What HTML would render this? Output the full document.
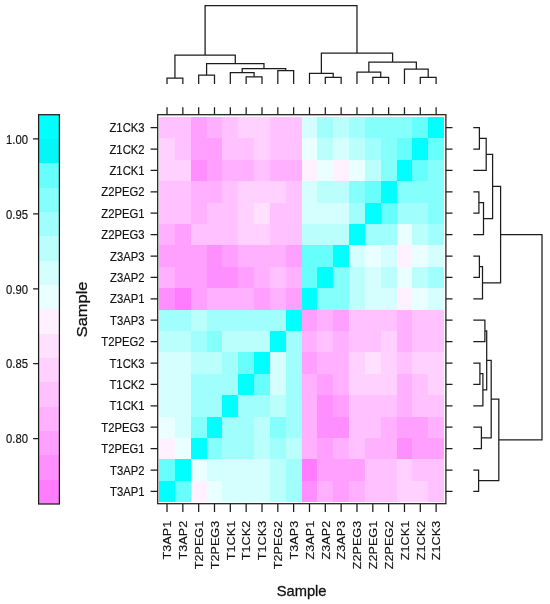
<!DOCTYPE html>
<html><head><meta charset="utf-8"><title>Sample heatmap</title>
<style>html,body{margin:0;padding:0;background:#fff;}svg{display:block;}text{font-family:"Liberation Sans",sans-serif;}</style>
</head><body>
<svg width="550" height="604" viewBox="0 0 550 604">
<rect width="550" height="604" fill="#fff"/>
<g shape-rendering="crispEdges">
<rect x="159.10" y="116.90" width="16.13" height="21.70" fill="#ffc1ff"/>
<rect x="174.93" y="116.90" width="16.13" height="21.70" fill="#ffc1ff"/>
<rect x="190.76" y="116.90" width="16.13" height="21.70" fill="#ffa0ff"/>
<rect x="206.59" y="116.90" width="16.13" height="21.70" fill="#ffb1ff"/>
<rect x="222.42" y="116.90" width="16.13" height="21.70" fill="#ffc1ff"/>
<rect x="238.25" y="116.90" width="16.13" height="21.70" fill="#ffd1ff"/>
<rect x="254.08" y="116.90" width="16.13" height="21.70" fill="#ffd1ff"/>
<rect x="269.91" y="116.90" width="16.13" height="21.70" fill="#ffc1ff"/>
<rect x="285.74" y="116.90" width="16.13" height="21.70" fill="#ffc1ff"/>
<rect x="301.57" y="116.90" width="16.13" height="21.70" fill="#d4fffe"/>
<rect x="317.40" y="116.90" width="16.13" height="21.70" fill="#a0fffc"/>
<rect x="333.23" y="116.90" width="16.13" height="21.70" fill="#bbfffd"/>
<rect x="349.06" y="116.90" width="16.13" height="21.70" fill="#a0fffc"/>
<rect x="364.89" y="116.90" width="16.13" height="21.70" fill="#84fffb"/>
<rect x="380.72" y="116.90" width="16.13" height="21.70" fill="#84fffb"/>
<rect x="396.55" y="116.90" width="16.13" height="21.70" fill="#84fffb"/>
<rect x="412.38" y="116.90" width="16.13" height="21.70" fill="#66fffb"/>
<rect x="428.21" y="116.90" width="16.13" height="21.70" fill="#00ffff"/>
<rect x="159.10" y="138.30" width="16.13" height="21.70" fill="#ffd1ff"/>
<rect x="174.93" y="138.30" width="16.13" height="21.70" fill="#ffc1ff"/>
<rect x="190.76" y="138.30" width="16.13" height="21.70" fill="#ffa0ff"/>
<rect x="206.59" y="138.30" width="16.13" height="21.70" fill="#ffa0ff"/>
<rect x="222.42" y="138.30" width="16.13" height="21.70" fill="#ffc1ff"/>
<rect x="238.25" y="138.30" width="16.13" height="21.70" fill="#ffc1ff"/>
<rect x="254.08" y="138.30" width="16.13" height="21.70" fill="#ffd1ff"/>
<rect x="269.91" y="138.30" width="16.13" height="21.70" fill="#ffc1ff"/>
<rect x="285.74" y="138.30" width="16.13" height="21.70" fill="#ffc1ff"/>
<rect x="301.57" y="138.30" width="16.13" height="21.70" fill="#eaffff"/>
<rect x="317.40" y="138.30" width="16.13" height="21.70" fill="#bbfffd"/>
<rect x="333.23" y="138.30" width="16.13" height="21.70" fill="#d4fffe"/>
<rect x="349.06" y="138.30" width="16.13" height="21.70" fill="#bbfffd"/>
<rect x="364.89" y="138.30" width="16.13" height="21.70" fill="#a0fffc"/>
<rect x="380.72" y="138.30" width="16.13" height="21.70" fill="#84fffb"/>
<rect x="396.55" y="138.30" width="16.13" height="21.70" fill="#66fffb"/>
<rect x="412.38" y="138.30" width="16.13" height="21.70" fill="#00ffff"/>
<rect x="428.21" y="138.30" width="16.13" height="21.70" fill="#66fffb"/>
<rect x="159.10" y="159.70" width="16.13" height="21.70" fill="#ffd1ff"/>
<rect x="174.93" y="159.70" width="16.13" height="21.70" fill="#ffd1ff"/>
<rect x="190.76" y="159.70" width="16.13" height="21.70" fill="#ff8fff"/>
<rect x="206.59" y="159.70" width="16.13" height="21.70" fill="#ffa0ff"/>
<rect x="222.42" y="159.70" width="16.13" height="21.70" fill="#ffb1ff"/>
<rect x="238.25" y="159.70" width="16.13" height="21.70" fill="#ffb1ff"/>
<rect x="254.08" y="159.70" width="16.13" height="21.70" fill="#ffc1ff"/>
<rect x="269.91" y="159.70" width="16.13" height="21.70" fill="#ffb1ff"/>
<rect x="285.74" y="159.70" width="16.13" height="21.70" fill="#ffb1ff"/>
<rect x="301.57" y="159.70" width="16.13" height="21.70" fill="#fff1ff"/>
<rect x="317.40" y="159.70" width="16.13" height="21.70" fill="#eaffff"/>
<rect x="333.23" y="159.70" width="16.13" height="21.70" fill="#fff1ff"/>
<rect x="349.06" y="159.70" width="16.13" height="21.70" fill="#eaffff"/>
<rect x="364.89" y="159.70" width="16.13" height="21.70" fill="#bbfffd"/>
<rect x="380.72" y="159.70" width="16.13" height="21.70" fill="#84fffb"/>
<rect x="396.55" y="159.70" width="16.13" height="21.70" fill="#00ffff"/>
<rect x="412.38" y="159.70" width="16.13" height="21.70" fill="#66fffb"/>
<rect x="428.21" y="159.70" width="16.13" height="21.70" fill="#84fffb"/>
<rect x="159.10" y="181.10" width="16.13" height="21.70" fill="#ffc1ff"/>
<rect x="174.93" y="181.10" width="16.13" height="21.70" fill="#ffc1ff"/>
<rect x="190.76" y="181.10" width="16.13" height="21.70" fill="#ffb1ff"/>
<rect x="206.59" y="181.10" width="16.13" height="21.70" fill="#ffb1ff"/>
<rect x="222.42" y="181.10" width="16.13" height="21.70" fill="#ffc1ff"/>
<rect x="238.25" y="181.10" width="16.13" height="21.70" fill="#ffd1ff"/>
<rect x="254.08" y="181.10" width="16.13" height="21.70" fill="#ffd1ff"/>
<rect x="269.91" y="181.10" width="16.13" height="21.70" fill="#ffd1ff"/>
<rect x="285.74" y="181.10" width="16.13" height="21.70" fill="#ffc1ff"/>
<rect x="301.57" y="181.10" width="16.13" height="21.70" fill="#d4fffe"/>
<rect x="317.40" y="181.10" width="16.13" height="21.70" fill="#bbfffd"/>
<rect x="333.23" y="181.10" width="16.13" height="21.70" fill="#bbfffd"/>
<rect x="349.06" y="181.10" width="16.13" height="21.70" fill="#84fffb"/>
<rect x="364.89" y="181.10" width="16.13" height="21.70" fill="#66fffb"/>
<rect x="380.72" y="181.10" width="16.13" height="21.70" fill="#00ffff"/>
<rect x="396.55" y="181.10" width="16.13" height="21.70" fill="#84fffb"/>
<rect x="412.38" y="181.10" width="16.13" height="21.70" fill="#84fffb"/>
<rect x="428.21" y="181.10" width="16.13" height="21.70" fill="#84fffb"/>
<rect x="159.10" y="202.50" width="16.13" height="21.70" fill="#ffc1ff"/>
<rect x="174.93" y="202.50" width="16.13" height="21.70" fill="#ffc1ff"/>
<rect x="190.76" y="202.50" width="16.13" height="21.70" fill="#ffb1ff"/>
<rect x="206.59" y="202.50" width="16.13" height="21.70" fill="#ffc1ff"/>
<rect x="222.42" y="202.50" width="16.13" height="21.70" fill="#ffc1ff"/>
<rect x="238.25" y="202.50" width="16.13" height="21.70" fill="#ffd1ff"/>
<rect x="254.08" y="202.50" width="16.13" height="21.70" fill="#ffe1ff"/>
<rect x="269.91" y="202.50" width="16.13" height="21.70" fill="#ffc1ff"/>
<rect x="285.74" y="202.50" width="16.13" height="21.70" fill="#ffc1ff"/>
<rect x="301.57" y="202.50" width="16.13" height="21.70" fill="#d4fffe"/>
<rect x="317.40" y="202.50" width="16.13" height="21.70" fill="#d4fffe"/>
<rect x="333.23" y="202.50" width="16.13" height="21.70" fill="#d4fffe"/>
<rect x="349.06" y="202.50" width="16.13" height="21.70" fill="#a0fffc"/>
<rect x="364.89" y="202.50" width="16.13" height="21.70" fill="#00ffff"/>
<rect x="380.72" y="202.50" width="16.13" height="21.70" fill="#66fffb"/>
<rect x="396.55" y="202.50" width="16.13" height="21.70" fill="#a0fffc"/>
<rect x="412.38" y="202.50" width="16.13" height="21.70" fill="#a0fffc"/>
<rect x="428.21" y="202.50" width="16.13" height="21.70" fill="#84fffb"/>
<rect x="159.10" y="223.90" width="16.13" height="21.70" fill="#ffb1ff"/>
<rect x="174.93" y="223.90" width="16.13" height="21.70" fill="#ffa0ff"/>
<rect x="190.76" y="223.90" width="16.13" height="21.70" fill="#ffc1ff"/>
<rect x="206.59" y="223.90" width="16.13" height="21.70" fill="#ffc1ff"/>
<rect x="222.42" y="223.90" width="16.13" height="21.70" fill="#ffc1ff"/>
<rect x="238.25" y="223.90" width="16.13" height="21.70" fill="#ffd1ff"/>
<rect x="254.08" y="223.90" width="16.13" height="21.70" fill="#ffd1ff"/>
<rect x="269.91" y="223.90" width="16.13" height="21.70" fill="#ffc1ff"/>
<rect x="285.74" y="223.90" width="16.13" height="21.70" fill="#ffc1ff"/>
<rect x="301.57" y="223.90" width="16.13" height="21.70" fill="#bbfffd"/>
<rect x="317.40" y="223.90" width="16.13" height="21.70" fill="#bbfffd"/>
<rect x="333.23" y="223.90" width="16.13" height="21.70" fill="#bbfffd"/>
<rect x="349.06" y="223.90" width="16.13" height="21.70" fill="#00ffff"/>
<rect x="364.89" y="223.90" width="16.13" height="21.70" fill="#a0fffc"/>
<rect x="380.72" y="223.90" width="16.13" height="21.70" fill="#a0fffc"/>
<rect x="396.55" y="223.90" width="16.13" height="21.70" fill="#eaffff"/>
<rect x="412.38" y="223.90" width="16.13" height="21.70" fill="#bbfffd"/>
<rect x="428.21" y="223.90" width="16.13" height="21.70" fill="#a0fffc"/>
<rect x="159.10" y="245.30" width="16.13" height="21.70" fill="#ffa0ff"/>
<rect x="174.93" y="245.30" width="16.13" height="21.70" fill="#ffa0ff"/>
<rect x="190.76" y="245.30" width="16.13" height="21.70" fill="#ffa0ff"/>
<rect x="206.59" y="245.30" width="16.13" height="21.70" fill="#ff8fff"/>
<rect x="222.42" y="245.30" width="16.13" height="21.70" fill="#ffa0ff"/>
<rect x="238.25" y="245.30" width="16.13" height="21.70" fill="#ffb1ff"/>
<rect x="254.08" y="245.30" width="16.13" height="21.70" fill="#ffb1ff"/>
<rect x="269.91" y="245.30" width="16.13" height="21.70" fill="#ffb1ff"/>
<rect x="285.74" y="245.30" width="16.13" height="21.70" fill="#ffa0ff"/>
<rect x="301.57" y="245.30" width="16.13" height="21.70" fill="#66fffb"/>
<rect x="317.40" y="245.30" width="16.13" height="21.70" fill="#66fffb"/>
<rect x="333.23" y="245.30" width="16.13" height="21.70" fill="#00ffff"/>
<rect x="349.06" y="245.30" width="16.13" height="21.70" fill="#d4fffe"/>
<rect x="364.89" y="245.30" width="16.13" height="21.70" fill="#eaffff"/>
<rect x="380.72" y="245.30" width="16.13" height="21.70" fill="#d4fffe"/>
<rect x="396.55" y="245.30" width="16.13" height="21.70" fill="#fff1ff"/>
<rect x="412.38" y="245.30" width="16.13" height="21.70" fill="#eaffff"/>
<rect x="428.21" y="245.30" width="16.13" height="21.70" fill="#d4fffe"/>
<rect x="159.10" y="266.70" width="16.13" height="21.70" fill="#ffb1ff"/>
<rect x="174.93" y="266.70" width="16.13" height="21.70" fill="#ffa0ff"/>
<rect x="190.76" y="266.70" width="16.13" height="21.70" fill="#ffa0ff"/>
<rect x="206.59" y="266.70" width="16.13" height="21.70" fill="#ff8fff"/>
<rect x="222.42" y="266.70" width="16.13" height="21.70" fill="#ff8fff"/>
<rect x="238.25" y="266.70" width="16.13" height="21.70" fill="#ffa0ff"/>
<rect x="254.08" y="266.70" width="16.13" height="21.70" fill="#ffb1ff"/>
<rect x="269.91" y="266.70" width="16.13" height="21.70" fill="#ffc1ff"/>
<rect x="285.74" y="266.70" width="16.13" height="21.70" fill="#ffb1ff"/>
<rect x="301.57" y="266.70" width="16.13" height="21.70" fill="#66fffb"/>
<rect x="317.40" y="266.70" width="16.13" height="21.70" fill="#00ffff"/>
<rect x="333.23" y="266.70" width="16.13" height="21.70" fill="#84fffb"/>
<rect x="349.06" y="266.70" width="16.13" height="21.70" fill="#bbfffd"/>
<rect x="364.89" y="266.70" width="16.13" height="21.70" fill="#d4fffe"/>
<rect x="380.72" y="266.70" width="16.13" height="21.70" fill="#bbfffd"/>
<rect x="396.55" y="266.70" width="16.13" height="21.70" fill="#eaffff"/>
<rect x="412.38" y="266.70" width="16.13" height="21.70" fill="#bbfffd"/>
<rect x="428.21" y="266.70" width="16.13" height="21.70" fill="#a0fffc"/>
<rect x="159.10" y="288.10" width="16.13" height="21.70" fill="#ff8fff"/>
<rect x="174.93" y="288.10" width="16.13" height="21.70" fill="#ff7cff"/>
<rect x="190.76" y="288.10" width="16.13" height="21.70" fill="#ffa0ff"/>
<rect x="206.59" y="288.10" width="16.13" height="21.70" fill="#ffb1ff"/>
<rect x="222.42" y="288.10" width="16.13" height="21.70" fill="#ffb1ff"/>
<rect x="238.25" y="288.10" width="16.13" height="21.70" fill="#ffb1ff"/>
<rect x="254.08" y="288.10" width="16.13" height="21.70" fill="#ffa0ff"/>
<rect x="269.91" y="288.10" width="16.13" height="21.70" fill="#ffb1ff"/>
<rect x="285.74" y="288.10" width="16.13" height="21.70" fill="#ffa0ff"/>
<rect x="301.57" y="288.10" width="16.13" height="21.70" fill="#00ffff"/>
<rect x="317.40" y="288.10" width="16.13" height="21.70" fill="#84fffb"/>
<rect x="333.23" y="288.10" width="16.13" height="21.70" fill="#84fffb"/>
<rect x="349.06" y="288.10" width="16.13" height="21.70" fill="#bbfffd"/>
<rect x="364.89" y="288.10" width="16.13" height="21.70" fill="#d4fffe"/>
<rect x="380.72" y="288.10" width="16.13" height="21.70" fill="#d4fffe"/>
<rect x="396.55" y="288.10" width="16.13" height="21.70" fill="#fff1ff"/>
<rect x="412.38" y="288.10" width="16.13" height="21.70" fill="#eaffff"/>
<rect x="428.21" y="288.10" width="16.13" height="21.70" fill="#d4fffe"/>
<rect x="159.10" y="309.50" width="16.13" height="21.70" fill="#a0fffc"/>
<rect x="174.93" y="309.50" width="16.13" height="21.70" fill="#a0fffc"/>
<rect x="190.76" y="309.50" width="16.13" height="21.70" fill="#bbfffd"/>
<rect x="206.59" y="309.50" width="16.13" height="21.70" fill="#a0fffc"/>
<rect x="222.42" y="309.50" width="16.13" height="21.70" fill="#a0fffc"/>
<rect x="238.25" y="309.50" width="16.13" height="21.70" fill="#a0fffc"/>
<rect x="254.08" y="309.50" width="16.13" height="21.70" fill="#a0fffc"/>
<rect x="269.91" y="309.50" width="16.13" height="21.70" fill="#a0fffc"/>
<rect x="285.74" y="309.50" width="16.13" height="21.70" fill="#00ffff"/>
<rect x="301.57" y="309.50" width="16.13" height="21.70" fill="#ffa0ff"/>
<rect x="317.40" y="309.50" width="16.13" height="21.70" fill="#ffb1ff"/>
<rect x="333.23" y="309.50" width="16.13" height="21.70" fill="#ffa0ff"/>
<rect x="349.06" y="309.50" width="16.13" height="21.70" fill="#ffc1ff"/>
<rect x="364.89" y="309.50" width="16.13" height="21.70" fill="#ffc1ff"/>
<rect x="380.72" y="309.50" width="16.13" height="21.70" fill="#ffc1ff"/>
<rect x="396.55" y="309.50" width="16.13" height="21.70" fill="#ffb1ff"/>
<rect x="412.38" y="309.50" width="16.13" height="21.70" fill="#ffc1ff"/>
<rect x="428.21" y="309.50" width="16.13" height="21.70" fill="#ffc1ff"/>
<rect x="159.10" y="330.90" width="16.13" height="21.70" fill="#bbfffd"/>
<rect x="174.93" y="330.90" width="16.13" height="21.70" fill="#bbfffd"/>
<rect x="190.76" y="330.90" width="16.13" height="21.70" fill="#a0fffc"/>
<rect x="206.59" y="330.90" width="16.13" height="21.70" fill="#84fffb"/>
<rect x="222.42" y="330.90" width="16.13" height="21.70" fill="#bbfffd"/>
<rect x="238.25" y="330.90" width="16.13" height="21.70" fill="#bbfffd"/>
<rect x="254.08" y="330.90" width="16.13" height="21.70" fill="#bbfffd"/>
<rect x="269.91" y="330.90" width="16.13" height="21.70" fill="#00ffff"/>
<rect x="285.74" y="330.90" width="16.13" height="21.70" fill="#a0fffc"/>
<rect x="301.57" y="330.90" width="16.13" height="21.70" fill="#ffb1ff"/>
<rect x="317.40" y="330.90" width="16.13" height="21.70" fill="#ffc1ff"/>
<rect x="333.23" y="330.90" width="16.13" height="21.70" fill="#ffb1ff"/>
<rect x="349.06" y="330.90" width="16.13" height="21.70" fill="#ffc1ff"/>
<rect x="364.89" y="330.90" width="16.13" height="21.70" fill="#ffc1ff"/>
<rect x="380.72" y="330.90" width="16.13" height="21.70" fill="#ffd1ff"/>
<rect x="396.55" y="330.90" width="16.13" height="21.70" fill="#ffb1ff"/>
<rect x="412.38" y="330.90" width="16.13" height="21.70" fill="#ffc1ff"/>
<rect x="428.21" y="330.90" width="16.13" height="21.70" fill="#ffc1ff"/>
<rect x="159.10" y="352.30" width="16.13" height="21.70" fill="#d4fffe"/>
<rect x="174.93" y="352.30" width="16.13" height="21.70" fill="#d4fffe"/>
<rect x="190.76" y="352.30" width="16.13" height="21.70" fill="#bbfffd"/>
<rect x="206.59" y="352.30" width="16.13" height="21.70" fill="#bbfffd"/>
<rect x="222.42" y="352.30" width="16.13" height="21.70" fill="#a0fffc"/>
<rect x="238.25" y="352.30" width="16.13" height="21.70" fill="#66fffb"/>
<rect x="254.08" y="352.30" width="16.13" height="21.70" fill="#00ffff"/>
<rect x="269.91" y="352.30" width="16.13" height="21.70" fill="#d4fffe"/>
<rect x="285.74" y="352.30" width="16.13" height="21.70" fill="#a0fffc"/>
<rect x="301.57" y="352.30" width="16.13" height="21.70" fill="#ffa0ff"/>
<rect x="317.40" y="352.30" width="16.13" height="21.70" fill="#ffb1ff"/>
<rect x="333.23" y="352.30" width="16.13" height="21.70" fill="#ffb1ff"/>
<rect x="349.06" y="352.30" width="16.13" height="21.70" fill="#ffd1ff"/>
<rect x="364.89" y="352.30" width="16.13" height="21.70" fill="#ffe1ff"/>
<rect x="380.72" y="352.30" width="16.13" height="21.70" fill="#ffd1ff"/>
<rect x="396.55" y="352.30" width="16.13" height="21.70" fill="#ffc1ff"/>
<rect x="412.38" y="352.30" width="16.13" height="21.70" fill="#ffd1ff"/>
<rect x="428.21" y="352.30" width="16.13" height="21.70" fill="#ffd1ff"/>
<rect x="159.10" y="373.70" width="16.13" height="21.70" fill="#d4fffe"/>
<rect x="174.93" y="373.70" width="16.13" height="21.70" fill="#d4fffe"/>
<rect x="190.76" y="373.70" width="16.13" height="21.70" fill="#a0fffc"/>
<rect x="206.59" y="373.70" width="16.13" height="21.70" fill="#a0fffc"/>
<rect x="222.42" y="373.70" width="16.13" height="21.70" fill="#a0fffc"/>
<rect x="238.25" y="373.70" width="16.13" height="21.70" fill="#00ffff"/>
<rect x="254.08" y="373.70" width="16.13" height="21.70" fill="#66fffb"/>
<rect x="269.91" y="373.70" width="16.13" height="21.70" fill="#d4fffe"/>
<rect x="285.74" y="373.70" width="16.13" height="21.70" fill="#a0fffc"/>
<rect x="301.57" y="373.70" width="16.13" height="21.70" fill="#ffb1ff"/>
<rect x="317.40" y="373.70" width="16.13" height="21.70" fill="#ffa0ff"/>
<rect x="333.23" y="373.70" width="16.13" height="21.70" fill="#ffb1ff"/>
<rect x="349.06" y="373.70" width="16.13" height="21.70" fill="#ffd1ff"/>
<rect x="364.89" y="373.70" width="16.13" height="21.70" fill="#ffd1ff"/>
<rect x="380.72" y="373.70" width="16.13" height="21.70" fill="#ffd1ff"/>
<rect x="396.55" y="373.70" width="16.13" height="21.70" fill="#ffb1ff"/>
<rect x="412.38" y="373.70" width="16.13" height="21.70" fill="#ffc1ff"/>
<rect x="428.21" y="373.70" width="16.13" height="21.70" fill="#ffd1ff"/>
<rect x="159.10" y="395.10" width="16.13" height="21.70" fill="#d4fffe"/>
<rect x="174.93" y="395.10" width="16.13" height="21.70" fill="#d4fffe"/>
<rect x="190.76" y="395.10" width="16.13" height="21.70" fill="#a0fffc"/>
<rect x="206.59" y="395.10" width="16.13" height="21.70" fill="#a0fffc"/>
<rect x="222.42" y="395.10" width="16.13" height="21.70" fill="#00ffff"/>
<rect x="238.25" y="395.10" width="16.13" height="21.70" fill="#a0fffc"/>
<rect x="254.08" y="395.10" width="16.13" height="21.70" fill="#a0fffc"/>
<rect x="269.91" y="395.10" width="16.13" height="21.70" fill="#bbfffd"/>
<rect x="285.74" y="395.10" width="16.13" height="21.70" fill="#a0fffc"/>
<rect x="301.57" y="395.10" width="16.13" height="21.70" fill="#ffb1ff"/>
<rect x="317.40" y="395.10" width="16.13" height="21.70" fill="#ff8fff"/>
<rect x="333.23" y="395.10" width="16.13" height="21.70" fill="#ffa0ff"/>
<rect x="349.06" y="395.10" width="16.13" height="21.70" fill="#ffc1ff"/>
<rect x="364.89" y="395.10" width="16.13" height="21.70" fill="#ffc1ff"/>
<rect x="380.72" y="395.10" width="16.13" height="21.70" fill="#ffc1ff"/>
<rect x="396.55" y="395.10" width="16.13" height="21.70" fill="#ffb1ff"/>
<rect x="412.38" y="395.10" width="16.13" height="21.70" fill="#ffc1ff"/>
<rect x="428.21" y="395.10" width="16.13" height="21.70" fill="#ffc1ff"/>
<rect x="159.10" y="416.50" width="16.13" height="21.70" fill="#eaffff"/>
<rect x="174.93" y="416.50" width="16.13" height="21.70" fill="#d4fffe"/>
<rect x="190.76" y="416.50" width="16.13" height="21.70" fill="#84fffb"/>
<rect x="206.59" y="416.50" width="16.13" height="21.70" fill="#00ffff"/>
<rect x="222.42" y="416.50" width="16.13" height="21.70" fill="#a0fffc"/>
<rect x="238.25" y="416.50" width="16.13" height="21.70" fill="#a0fffc"/>
<rect x="254.08" y="416.50" width="16.13" height="21.70" fill="#bbfffd"/>
<rect x="269.91" y="416.50" width="16.13" height="21.70" fill="#84fffb"/>
<rect x="285.74" y="416.50" width="16.13" height="21.70" fill="#a0fffc"/>
<rect x="301.57" y="416.50" width="16.13" height="21.70" fill="#ffb1ff"/>
<rect x="317.40" y="416.50" width="16.13" height="21.70" fill="#ff8fff"/>
<rect x="333.23" y="416.50" width="16.13" height="21.70" fill="#ff8fff"/>
<rect x="349.06" y="416.50" width="16.13" height="21.70" fill="#ffc1ff"/>
<rect x="364.89" y="416.50" width="16.13" height="21.70" fill="#ffc1ff"/>
<rect x="380.72" y="416.50" width="16.13" height="21.70" fill="#ffb1ff"/>
<rect x="396.55" y="416.50" width="16.13" height="21.70" fill="#ffa0ff"/>
<rect x="412.38" y="416.50" width="16.13" height="21.70" fill="#ffa0ff"/>
<rect x="428.21" y="416.50" width="16.13" height="21.70" fill="#ffb1ff"/>
<rect x="159.10" y="437.90" width="16.13" height="21.70" fill="#fff1ff"/>
<rect x="174.93" y="437.90" width="16.13" height="21.70" fill="#eaffff"/>
<rect x="190.76" y="437.90" width="16.13" height="21.70" fill="#00ffff"/>
<rect x="206.59" y="437.90" width="16.13" height="21.70" fill="#84fffb"/>
<rect x="222.42" y="437.90" width="16.13" height="21.70" fill="#a0fffc"/>
<rect x="238.25" y="437.90" width="16.13" height="21.70" fill="#a0fffc"/>
<rect x="254.08" y="437.90" width="16.13" height="21.70" fill="#bbfffd"/>
<rect x="269.91" y="437.90" width="16.13" height="21.70" fill="#a0fffc"/>
<rect x="285.74" y="437.90" width="16.13" height="21.70" fill="#bbfffd"/>
<rect x="301.57" y="437.90" width="16.13" height="21.70" fill="#ffb1ff"/>
<rect x="317.40" y="437.90" width="16.13" height="21.70" fill="#ffa0ff"/>
<rect x="333.23" y="437.90" width="16.13" height="21.70" fill="#ffb1ff"/>
<rect x="349.06" y="437.90" width="16.13" height="21.70" fill="#ffc1ff"/>
<rect x="364.89" y="437.90" width="16.13" height="21.70" fill="#ffb1ff"/>
<rect x="380.72" y="437.90" width="16.13" height="21.70" fill="#ffb1ff"/>
<rect x="396.55" y="437.90" width="16.13" height="21.70" fill="#ff8fff"/>
<rect x="412.38" y="437.90" width="16.13" height="21.70" fill="#ffa0ff"/>
<rect x="428.21" y="437.90" width="16.13" height="21.70" fill="#ffa0ff"/>
<rect x="159.10" y="459.30" width="16.13" height="21.70" fill="#66fffb"/>
<rect x="174.93" y="459.30" width="16.13" height="21.70" fill="#00ffff"/>
<rect x="190.76" y="459.30" width="16.13" height="21.70" fill="#eaffff"/>
<rect x="206.59" y="459.30" width="16.13" height="21.70" fill="#d4fffe"/>
<rect x="222.42" y="459.30" width="16.13" height="21.70" fill="#d4fffe"/>
<rect x="238.25" y="459.30" width="16.13" height="21.70" fill="#d4fffe"/>
<rect x="254.08" y="459.30" width="16.13" height="21.70" fill="#d4fffe"/>
<rect x="269.91" y="459.30" width="16.13" height="21.70" fill="#bbfffd"/>
<rect x="285.74" y="459.30" width="16.13" height="21.70" fill="#a0fffc"/>
<rect x="301.57" y="459.30" width="16.13" height="21.70" fill="#ff7cff"/>
<rect x="317.40" y="459.30" width="16.13" height="21.70" fill="#ffa0ff"/>
<rect x="333.23" y="459.30" width="16.13" height="21.70" fill="#ffa0ff"/>
<rect x="349.06" y="459.30" width="16.13" height="21.70" fill="#ffa0ff"/>
<rect x="364.89" y="459.30" width="16.13" height="21.70" fill="#ffc1ff"/>
<rect x="380.72" y="459.30" width="16.13" height="21.70" fill="#ffc1ff"/>
<rect x="396.55" y="459.30" width="16.13" height="21.70" fill="#ffd1ff"/>
<rect x="412.38" y="459.30" width="16.13" height="21.70" fill="#ffc1ff"/>
<rect x="428.21" y="459.30" width="16.13" height="21.70" fill="#ffc1ff"/>
<rect x="159.10" y="480.70" width="16.13" height="21.70" fill="#00ffff"/>
<rect x="174.93" y="480.70" width="16.13" height="21.70" fill="#66fffb"/>
<rect x="190.76" y="480.70" width="16.13" height="21.70" fill="#fff1ff"/>
<rect x="206.59" y="480.70" width="16.13" height="21.70" fill="#eaffff"/>
<rect x="222.42" y="480.70" width="16.13" height="21.70" fill="#d4fffe"/>
<rect x="238.25" y="480.70" width="16.13" height="21.70" fill="#d4fffe"/>
<rect x="254.08" y="480.70" width="16.13" height="21.70" fill="#d4fffe"/>
<rect x="269.91" y="480.70" width="16.13" height="21.70" fill="#bbfffd"/>
<rect x="285.74" y="480.70" width="16.13" height="21.70" fill="#a0fffc"/>
<rect x="301.57" y="480.70" width="16.13" height="21.70" fill="#ff8fff"/>
<rect x="317.40" y="480.70" width="16.13" height="21.70" fill="#ffb1ff"/>
<rect x="333.23" y="480.70" width="16.13" height="21.70" fill="#ffa0ff"/>
<rect x="349.06" y="480.70" width="16.13" height="21.70" fill="#ffb1ff"/>
<rect x="364.89" y="480.70" width="16.13" height="21.70" fill="#ffc1ff"/>
<rect x="380.72" y="480.70" width="16.13" height="21.70" fill="#ffc1ff"/>
<rect x="396.55" y="480.70" width="16.13" height="21.70" fill="#ffd1ff"/>
<rect x="412.38" y="480.70" width="16.13" height="21.70" fill="#ffd1ff"/>
<rect x="428.21" y="480.70" width="16.13" height="21.70" fill="#ffc1ff"/>
</g>
<g shape-rendering="crispEdges">
<rect x="38.6" y="114.70" width="20.80" height="24.63" fill="#00ffff"/>
<rect x="38.6" y="139.03" width="20.80" height="24.63" fill="#04f7f8"/>
<rect x="38.6" y="163.36" width="20.80" height="24.63" fill="#66fffb"/>
<rect x="38.6" y="187.69" width="20.80" height="24.63" fill="#84fffb"/>
<rect x="38.6" y="212.03" width="20.80" height="24.63" fill="#a0fffc"/>
<rect x="38.6" y="236.36" width="20.80" height="24.63" fill="#bbfffd"/>
<rect x="38.6" y="260.69" width="20.80" height="24.63" fill="#d4fffe"/>
<rect x="38.6" y="285.02" width="20.80" height="24.63" fill="#eaffff"/>
<rect x="38.6" y="309.35" width="20.80" height="24.63" fill="#fff1ff"/>
<rect x="38.6" y="333.68" width="20.80" height="24.63" fill="#ffe1ff"/>
<rect x="38.6" y="358.01" width="20.80" height="24.63" fill="#ffd1ff"/>
<rect x="38.6" y="382.34" width="20.80" height="24.63" fill="#ffc1ff"/>
<rect x="38.6" y="406.68" width="20.80" height="24.63" fill="#ffb1ff"/>
<rect x="38.6" y="431.01" width="20.80" height="24.63" fill="#ffa0ff"/>
<rect x="38.6" y="455.34" width="20.80" height="24.63" fill="#ff8fff"/>
<rect x="38.6" y="479.67" width="20.80" height="24.63" fill="#ff7cff"/>
</g>
<g fill="none" stroke="#1c1c1c" stroke-width="1.25">
<rect x="38.6" y="114.7" width="20.80" height="389.30"/>
<rect x="157.7" y="114.7" width="288.20" height="389.00"/>
<path d="M33.10 138.90H38.6M33.10 213.80H38.6M33.10 288.80H38.6M33.10 363.70H38.6M33.10 438.60H38.6M167.01 114.7V107.30M167.01 503.7V512.10M157.7 127.60H150.60M445.9 127.60H452.50M182.84 114.7V107.30M182.84 503.7V512.10M157.7 149.00H150.60M445.9 149.00H452.50M198.68 114.7V107.30M198.68 503.7V512.10M157.7 170.40H150.60M445.9 170.40H452.50M214.50 114.7V107.30M214.50 503.7V512.10M157.7 191.80H150.60M445.9 191.80H452.50M230.33 114.7V107.30M230.33 503.7V512.10M157.7 213.20H150.60M445.9 213.20H452.50M246.16 114.7V107.30M246.16 503.7V512.10M157.7 234.60H150.60M445.9 234.60H452.50M262.00 114.7V107.30M262.00 503.7V512.10M157.7 256.00H150.60M445.9 256.00H452.50M277.82 114.7V107.30M277.82 503.7V512.10M157.7 277.40H150.60M445.9 277.40H452.50M293.65 114.7V107.30M293.65 503.7V512.10M157.7 298.80H150.60M445.9 298.80H452.50M309.49 114.7V107.30M309.49 503.7V512.10M157.7 320.20H150.60M445.9 320.20H452.50M325.31 114.7V107.30M325.31 503.7V512.10M157.7 341.60H150.60M445.9 341.60H452.50M341.14 114.7V107.30M341.14 503.7V512.10M157.7 363.00H150.60M445.9 363.00H452.50M356.98 114.7V107.30M356.98 503.7V512.10M157.7 384.40H150.60M445.9 384.40H452.50M372.81 114.7V107.30M372.81 503.7V512.10M157.7 405.80H150.60M445.9 405.80H452.50M388.63 114.7V107.30M388.63 503.7V512.10M157.7 427.20H150.60M445.9 427.20H452.50M404.47 114.7V107.30M404.47 503.7V512.10M157.7 448.60H150.60M445.9 448.60H452.50M420.29 114.7V107.30M420.29 503.7V512.10M157.7 470.00H150.60M445.9 470.00H452.50M436.12 114.7V107.30M436.12 503.7V512.10M157.7 491.40H150.60M445.9 491.40H452.50"/>
<path d="M473.30 127.60H479.40V149.00H473.30M479.40 138.30H486.20V170.40H473.30M473.30 191.80H478.90V213.20H473.30M478.90 202.50H483.50V234.60H473.30M486.20 154.35H492.60V218.55H483.50M473.30 256.00H479.40V277.40H473.30M479.40 266.70H482.50V298.80H473.30M492.60 186.45H500.60V282.75H482.50M473.30 320.20H484.90V341.60H473.30M473.30 363.00H479.90V384.40H473.30M479.90 373.70H482.90V405.80H473.30M484.90 330.90H486.70V389.75H482.90M473.30 427.20H481.40V448.60H473.30M486.70 360.32H491.20V437.90H481.40M473.30 470.00H478.60V491.40H473.30M491.20 399.11H498.80V480.70H478.60M500.60 234.60H542.00V439.91H498.80" stroke-linejoin="miter"/>
<path d="M436.12 84.00V77.30H420.29V84.00M428.21 77.30V69.20H404.47V84.00M388.63 84.00V77.30H372.81V84.00M380.72 77.30V72.00H356.98V84.00M416.34 69.20V62.10H368.85V72.00M341.14 84.00V77.30H325.31V84.00M333.23 77.30V73.30H309.49V84.00M392.59 62.10V53.10H321.36V73.30M293.65 84.00V70.50H277.82V84.00M262.00 84.00V76.80H246.16V84.00M254.08 76.80V72.50H230.33V84.00M285.74 70.50V68.70H242.21V72.50M214.50 84.00V75.00H198.68V84.00M263.97 68.70V63.60H206.59V75.00M182.84 84.00V78.10H167.01V84.00M235.28 63.60V55.20H174.93V78.10M356.98 53.10V5.50H205.11V55.20" stroke-linejoin="miter"/>
</g>
<g font-family="Liberation Sans, sans-serif" fill="#111" stroke="#111" stroke-width="0.15" style="opacity:0.999">
<text transform="translate(144.6 132.20) scale(1 1.12)" font-size="11.3" text-anchor="end">Z1CK3</text>
<text transform="translate(144.6 153.60) scale(1 1.12)" font-size="11.3" text-anchor="end">Z1CK2</text>
<text transform="translate(144.6 175.00) scale(1 1.12)" font-size="11.3" text-anchor="end">Z1CK1</text>
<text transform="translate(144.6 196.40) scale(1 1.12)" font-size="11.3" text-anchor="end">Z2PEG2</text>
<text transform="translate(144.6 217.80) scale(1 1.12)" font-size="11.3" text-anchor="end">Z2PEG1</text>
<text transform="translate(144.6 239.20) scale(1 1.12)" font-size="11.3" text-anchor="end">Z2PEG3</text>
<text transform="translate(144.6 260.60) scale(1 1.12)" font-size="11.3" text-anchor="end">Z3AP3</text>
<text transform="translate(144.6 282.00) scale(1 1.12)" font-size="11.3" text-anchor="end">Z3AP2</text>
<text transform="translate(144.6 303.40) scale(1 1.12)" font-size="11.3" text-anchor="end">Z3AP1</text>
<text transform="translate(144.6 324.80) scale(1 1.12)" font-size="11.3" text-anchor="end">T3AP3</text>
<text transform="translate(144.6 346.20) scale(1 1.12)" font-size="11.3" text-anchor="end">T2PEG2</text>
<text transform="translate(144.6 367.60) scale(1 1.12)" font-size="11.3" text-anchor="end">T1CK3</text>
<text transform="translate(144.6 389.00) scale(1 1.12)" font-size="11.3" text-anchor="end">T1CK2</text>
<text transform="translate(144.6 410.40) scale(1 1.12)" font-size="11.3" text-anchor="end">T1CK1</text>
<text transform="translate(144.6 431.80) scale(1 1.12)" font-size="11.3" text-anchor="end">T2PEG3</text>
<text transform="translate(144.6 453.20) scale(1 1.12)" font-size="11.3" text-anchor="end">T2PEG1</text>
<text transform="translate(144.6 474.60) scale(1 1.12)" font-size="11.3" text-anchor="end">T3AP2</text>
<text transform="translate(144.6 496.00) scale(1 1.12)" font-size="11.3" text-anchor="end">T3AP1</text>
<text transform="translate(171.31 520.8) rotate(-90) scale(1.12 1)" font-size="11.3" text-anchor="end">T3AP1</text>
<text transform="translate(187.15 520.8) rotate(-90) scale(1.12 1)" font-size="11.3" text-anchor="end">T3AP2</text>
<text transform="translate(202.98 520.8) rotate(-90) scale(1.12 1)" font-size="11.3" text-anchor="end">T2PEG1</text>
<text transform="translate(218.81 520.8) rotate(-90) scale(1.12 1)" font-size="11.3" text-anchor="end">T2PEG3</text>
<text transform="translate(234.63 520.8) rotate(-90) scale(1.12 1)" font-size="11.3" text-anchor="end">T1CK1</text>
<text transform="translate(250.47 520.8) rotate(-90) scale(1.12 1)" font-size="11.3" text-anchor="end">T1CK2</text>
<text transform="translate(266.30 520.8) rotate(-90) scale(1.12 1)" font-size="11.3" text-anchor="end">T1CK3</text>
<text transform="translate(282.12 520.8) rotate(-90) scale(1.12 1)" font-size="11.3" text-anchor="end">T2PEG2</text>
<text transform="translate(297.95 520.8) rotate(-90) scale(1.12 1)" font-size="11.3" text-anchor="end">T3AP3</text>
<text transform="translate(313.79 520.8) rotate(-90) scale(1.12 1)" font-size="11.3" text-anchor="end">Z3AP1</text>
<text transform="translate(329.62 520.8) rotate(-90) scale(1.12 1)" font-size="11.3" text-anchor="end">Z3AP2</text>
<text transform="translate(345.44 520.8) rotate(-90) scale(1.12 1)" font-size="11.3" text-anchor="end">Z3AP3</text>
<text transform="translate(361.28 520.8) rotate(-90) scale(1.12 1)" font-size="11.3" text-anchor="end">Z2PEG3</text>
<text transform="translate(377.11 520.8) rotate(-90) scale(1.12 1)" font-size="11.3" text-anchor="end">Z2PEG1</text>
<text transform="translate(392.94 520.8) rotate(-90) scale(1.12 1)" font-size="11.3" text-anchor="end">Z2PEG2</text>
<text transform="translate(408.77 520.8) rotate(-90) scale(1.12 1)" font-size="11.3" text-anchor="end">Z1CK1</text>
<text transform="translate(424.59 520.8) rotate(-90) scale(1.12 1)" font-size="11.3" text-anchor="end">Z1CK2</text>
<text transform="translate(440.43 520.8) rotate(-90) scale(1.12 1)" font-size="11.3" text-anchor="end">Z1CK3</text>
<text transform="translate(28.0 143.60) scale(1 1.07)" font-size="11.3" text-anchor="end">1.00</text>
<text transform="translate(28.0 218.50) scale(1 1.07)" font-size="11.3" text-anchor="end">0.95</text>
<text transform="translate(28.0 293.50) scale(1 1.07)" font-size="11.3" text-anchor="end">0.90</text>
<text transform="translate(28.0 368.40) scale(1 1.07)" font-size="11.3" text-anchor="end">0.85</text>
<text transform="translate(28.0 443.30) scale(1 1.07)" font-size="11.3" text-anchor="end">0.80</text>
<text transform="translate(301.6 595.8) scale(1 1.045)" font-size="14.7" text-anchor="middle" stroke="#111" stroke-width="0.3">Sample</text>
<text transform="translate(86.5 309.4) rotate(-90) scale(1.135 1)" font-size="14.5" text-anchor="middle" stroke="#111" stroke-width="0.3">Sample</text>
</g>
</svg>
</body></html>
